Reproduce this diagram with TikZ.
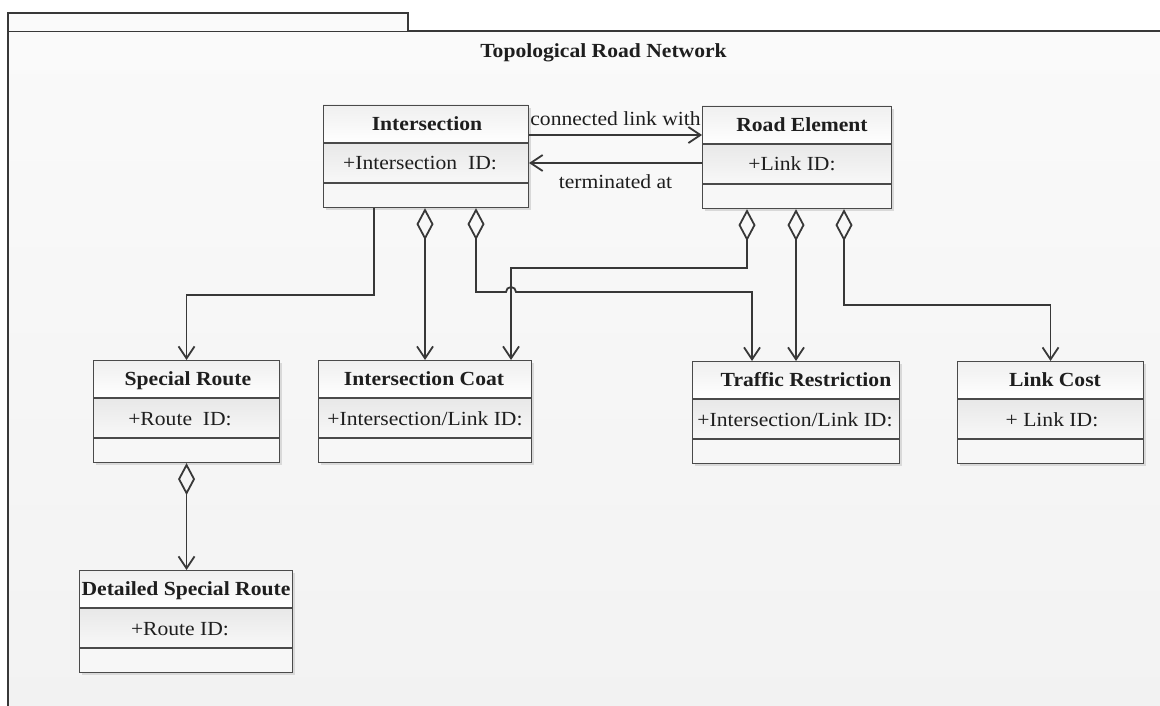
\documentclass[tikz,border=0pt]{standalone}
\usepackage{fontspec}
\setmainfont{Liberation Serif}[FakeStretch=1.08]
\usetikzlibrary{arrows.meta}

\newcommand\diagfont{\fontsize{20}{24}\selectfont}

\definecolor{inkline}{HTML}{383838}
\definecolor{boxline}{HTML}{4A4A4A}
\definecolor{shadowc}{HTML}{D9D9D9}
\definecolor{hdtop}{HTML}{EFEFEF}
\definecolor{hdbot}{HTML}{FFFFFF}
\definecolor{attop}{HTML}{E8E8E8}
\definecolor{atbot}{HTML}{F8F8F8}
\definecolor{opfill}{HTML}{F7F7F7}
\definecolor{pkgtop}{HTML}{FAFAFA}
\definecolor{pkgbot}{HTML}{F2F2F2}
\definecolor{txt}{HTML}{1E1E1E}

\tikzset{
  classbox/.style={draw=boxline, line width=1.1pt, minimum height=102pt, inner sep=0pt},
  sepline/.style={draw=boxline, line width=1.1pt},
  hdtext/.style={anchor=base, inner sep=0pt, font=\diagfont\bfseries, text=txt},
  attext/.style={anchor=base, inner sep=0pt, font=\diagfont, text=txt},
  lbltext/.style={anchor=base, inner sep=0pt, font=\diagfont, text=txt},
  frameline/.style={draw=inkline, line width=1.3pt},
  assoc/.style={draw=inkline, line width=1.8pt,
    -{Straight Barb[length=12pt, width=16pt]}},
  aggr/.style={draw=inkline, line width=1.8pt,
    {Diamond[open, length=32pt, width=17pt]}-{Straight Barb[length=12pt, width=16pt]}},
}

% #1 name, #2 left, #3 top, #4 width, #5 title x, #6 title, #7 attribute x, #8 attribute
\newcommand\umlclass[8]{%
  \fill[shadowc] ({#2+3},{#3+3}) rectangle ({#2+#4+3},{#3+105});
  \shade[top color=hdtop, bottom color=hdbot] (#2,#3) rectangle ({#2+#4},{#3+38});
  \shade[top color=attop, bottom color=atbot] (#2,{#3+38}) rectangle ({#2+#4},{#3+78});
  \fill[opfill] (#2,{#3+78}) rectangle ({#2+#4},{#3+102});
  \node[classbox, minimum width=#4pt, anchor=north west] (#1) at (#2,#3) {};
  \draw[sepline] ([yshift=-38pt]#1.north west) -- ([yshift=-38pt]#1.north east);
  \draw[sepline] ([yshift=-78pt]#1.north west) -- ([yshift=-78pt]#1.north east);
  \node[hdtext] (#1-name) at (#5,{#3+25.5}) {#6};
  \node[attext] (#1-attr) at (#7,{#3+65}) {#8};
}

\begin{document}
\begin{tikzpicture}[x=1pt, y=-1pt, font=\diagfont]
\useasboundingbox (0,0) rectangle (1160,706);
\fill[white] (0,0) rectangle (1160,706);

% package frame with its tab
\begin{scope}
  \clip (0,0) rectangle (1160,706);
  \shade[top color=pkgtop, bottom color=pkgbot] (8,31) rectangle (1170,720);
  \draw[frameline] (8,31) rectangle (1170,720);
  \fill[pkgtop] (8,13) rectangle (408,31);
  \draw[frameline] (8,31) -- (8,13) -- (408,13) -- (408,31);
\end{scope}
\node[hdtext] (title) at (603.5,58) {Topological Road Network};

% classes
\umlclass{inter}{323}{105}{205}{427}{Intersection}{420}{+Intersection\ \ ID:}
\umlclass{road}{702}{106}{189}{802}{Road Element}{792}{+Link ID:}
\umlclass{sroute}{93}{360}{186}{188}{Special Route}{180}{+Route\ \ ID:}
\umlclass{coat}{318}{360}{213}{424}{Intersection Coat}{425}{+Intersection/Link ID:}
\umlclass{traffic}{692}{361}{207}{806}{Traffic Restriction}{795}{+Intersection/Link ID:}
\umlclass{linkcost}{957}{361}{186}{1055}{Link Cost}{1052}{+ Link ID:}
\umlclass{detail}{79}{570}{213}{186}{Detailed Special Route}{180}{+Route ID:}

% ports on the class boxes
\coordinate (p-conn) at ([yshift=-30pt]inter.north east);
\coordinate (p-term) at ([yshift=-57pt]road.north west);
\coordinate (i-a)  at ([xshift=51pt]inter.south west);
\coordinate (i-d1) at ([xshift=102pt]inter.south west);
\coordinate (i-d2) at ([xshift=153pt]inter.south west);
\coordinate (r-d1) at ([xshift=45pt]road.south west);
\coordinate (r-d2) at ([xshift=94pt]road.south west);
\coordinate (r-d3) at ([xshift=142pt]road.south west);
\coordinate (c-in) at ([xshift=193pt]coat.north west);
\coordinate (t-in1) at ([xshift=60pt]traffic.north west);
\coordinate (t-in2) at ([xshift=104pt]traffic.north west);

% associations between intersection and road element
\draw[assoc] (p-conn) -- (p-conn -| road.west)
  node[lbltext, midway, yshift=9pt] (lbl-conn) {connected link with};
\draw[assoc] (p-term) -- (p-term -| inter.east)
  node[lbltext, midway, yshift=-26pt] (lbl-term) {terminated at};

% intersection to special route
\draw[assoc] (i-a) -- ++(0,87) -| (sroute.north);

% aggregations
\draw[aggr] (i-d1) -- (i-d1 |- coat.north);
\draw[aggr] (i-d2) -- (476,292) -- (506,292)
  arc[start angle=180, end angle=0, radius=5pt] -| (t-in1);
\draw[aggr] (r-d1) -- ++(0,59) -| (c-in);
\draw[aggr] (r-d2) -- (t-in2);
\draw[aggr] (r-d3) -- ++(0,96) -| (linkcost.north);
\draw[aggr] (sroute.south) -- (sroute.south |- detail.north);
\end{tikzpicture}
\end{document}
